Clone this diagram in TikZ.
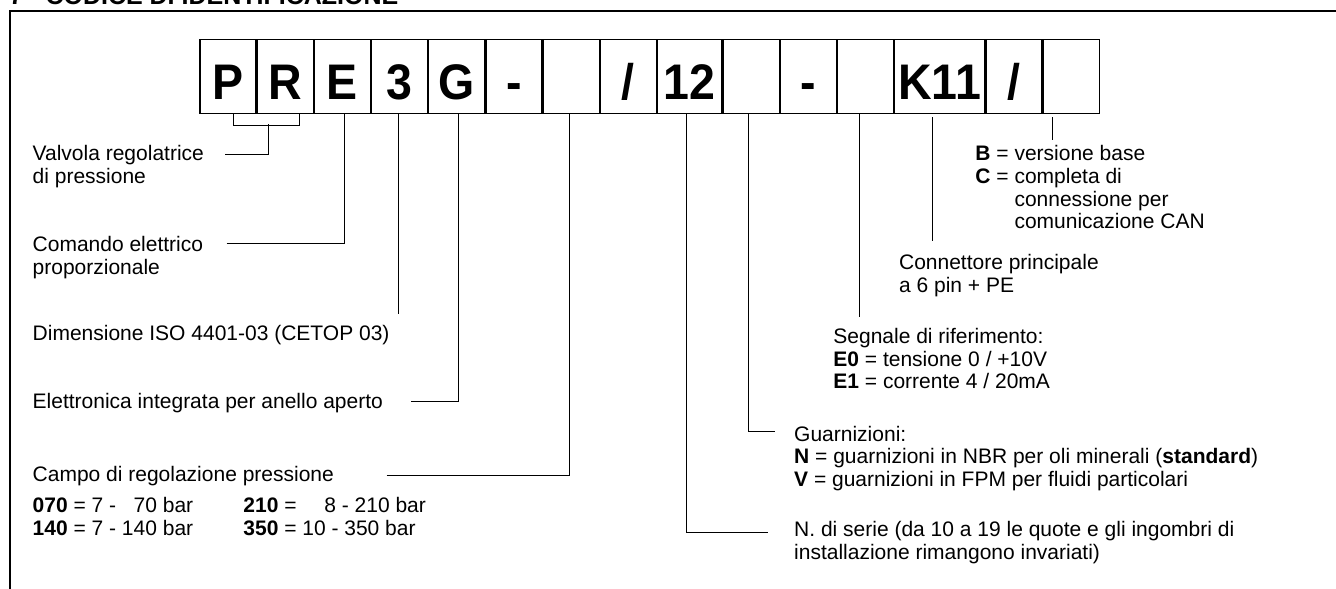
\documentclass[tikz,border=0pt]{standalone}
\usepackage{fontspec}
\setmainfont{Liberation Sans}
\newfontfamily\cellface[FakeStretch=0.93]{Liberation Sans}
\usepackage{tikz}
\usetikzlibrary{positioning}

\newcommand{\lblfont}{\fontsize{10.5}{11.35}\selectfont}
\newcommand{\lbltab}[1]{\begin{tabular}[t]{@{}l@{}}#1\end{tabular}}

\tikzset{
  cell/.style={draw, line width=0.6pt, inner sep=0pt, minimum width=28pt,
    minimum height=37.3pt, text height=30.15pt, text depth=7.15pt,
    font=\cellface\fontsize{25}{30}\selectfont\bfseries},
  lbl/.style={anchor=base west, inner sep=0pt, font=\lblfont},
  lead/.style={line width=0.5pt}
}

\begin{document}
\begin{tikzpicture}[x=0.5pt,y=-0.5pt]
\useasboundingbox (0,0) rectangle (1336,588);

% Frame and title
\draw[line width=0.8pt] (10,600) -- (10,11) -- (1340,11);
\node[anchor=base west, inner sep=0pt, font=\fontsize{12.5}{15}\selectfont\bfseries] (title) at (9,5) {7 - CODICE DI IDENTIFICAZIONE};

% Code boxes
\node[cell, anchor=north west] (cP) at (199.3,38.7) {P};
\node[cell, right=0pt of cP] (cR) {R};
\node[cell, right=0pt of cR] (cE) {E};
\node[cell, right=0pt of cE] (cThree) {3};
\node[cell, right=0pt of cThree] (cG) {G};
\node[cell, right=0pt of cG] (cDashA) {-};
\node[cell, right=0pt of cDashA] (cRange) {};
\node[cell, right=0pt of cRange] (cSlashA) {/};
\node[cell, right=0pt of cSlashA, minimum width=32.2pt] (cSer) {12};
\node[cell, right=0pt of cSer] (cSeal) {};
\node[cell, right=0pt of cSeal] (cDashB) {-};
\node[cell, right=0pt of cDashB] (cSig) {};
\node[cell, right=0pt of cSig, minimum width=45pt] (cK) {K11};
\node[cell, right=0pt of cK] (cSlashB) {/};
\node[cell, right=0pt of cSlashB] (cVer) {};

% Labels, left side
\node[lbl] (valv) at (32.3,160.7) {\lbltab{Valvola regolatrice\\di pressione}};
\node[lbl] (cmd) at (32.3,251.7) {\lbltab{Comando elettrico\\proporzionale}};
\node[lbl] (dim) at (32.3,340) {Dimensione ISO 4401-03 (CETOP 03)};
\node[lbl] (elet) at (32.3,408.3) {Elettronica integrata per anello aperto};
\node[lbl] (campo) at (32.3,481.7) {\begin{tabular}[t]{@{}l@{}l@{}}
  \multicolumn{2}{@{}l@{}}{Campo di regolazione pressione}\\[4.15pt]
  \makebox[105.35pt][l]{\textbf{070} = 7 - \phantom{1}70 bar} & \textbf{210} = \hspace{11pt}8 - 210 bar\\
  \textbf{140} = 7 - 140 bar & \textbf{350} = 10 - 350 bar
\end{tabular}};

% Labels, right side
\node[lbl] (ver) at (975,160.7) {\begin{tabular}[t]{@{}l@{\ }l@{}}
  \textbf{B} = & versione base\\
  \textbf{C} = & completa di\\
   & connessione per\\
   & comunicazione CAN
\end{tabular}};
\node[lbl] (conn) at (898.7,269.3) {\lbltab{Connettore principale\\a 6 pin + PE}};
\node[lbl] (segn) at (833,343.3) {\lbltab{Segnale di riferimento:\\\textbf{E0} = tensione 0 / +10V\\\textbf{E1} = corrente 4 / 20mA}};
\node[lbl] (guarn) at (793.8,441) {\lbltab{Guarnizioni:\\\textbf{N} = guarnizioni in NBR per oli minerali (\textbf{standard})\\\textbf{V} = guarnizioni in FPM per fluidi particolari}};
\node[lbl] (serie) at (793.8,536.7) {\lbltab{N. di serie (da 10 a 19 le quote e gli ingombri di\\installazione rimangono invariati)}};

% Leaders
\coordinate (brk) at (268.7,124);
\coordinate (dimend) at (398.7,314);
\coordinate (conend) at (932,241);
\coordinate (sigend) at (859,316.7);
\coordinate (verend) at (1052.3,140);

\draw[lead] ([xshift=2.7pt]cP.south) -- ++(0,10.7) -- ++(66.6,0) -- ++(0,-10.7);
\draw[lead] ([shift={(192.7,-6.4)}]valv.base west) -| (brk);
\draw[lead] ([shift={(194.4,-8.4)}]cmd.base west) -| ([xshift=1.2pt]cE.south);
\draw[lead] (cThree.south -| dimend) -- (dimend);
\draw[lead] ([shift={(379.1,-6.6)}]elet.base west) -| ([xshift=0.7pt]cG.south);
\draw[lead] ([shift={(354.2,-6.7)}]campo.base west) -| ([xshift=-0.75pt]cRange.south);
\draw[lead] ([xshift=-1.75pt]cSer.south) |- ([shift={(-25.9,-4.4)}]serie.base west);
\draw[lead] ([xshift=-1.2pt]cSeal.south) |- ([shift={(-18.4,-9.3)}]guarn.base west);
\draw[lead] (cSig.south -| sigend) -- (sigend);
\draw[lead, shorten <=1.3pt] (cK.south -| conend) -- (conend);
\draw[lead, shorten <=1.3pt] (cVer.south -| verend) -- (verend);
\end{tikzpicture}
\end{document}
